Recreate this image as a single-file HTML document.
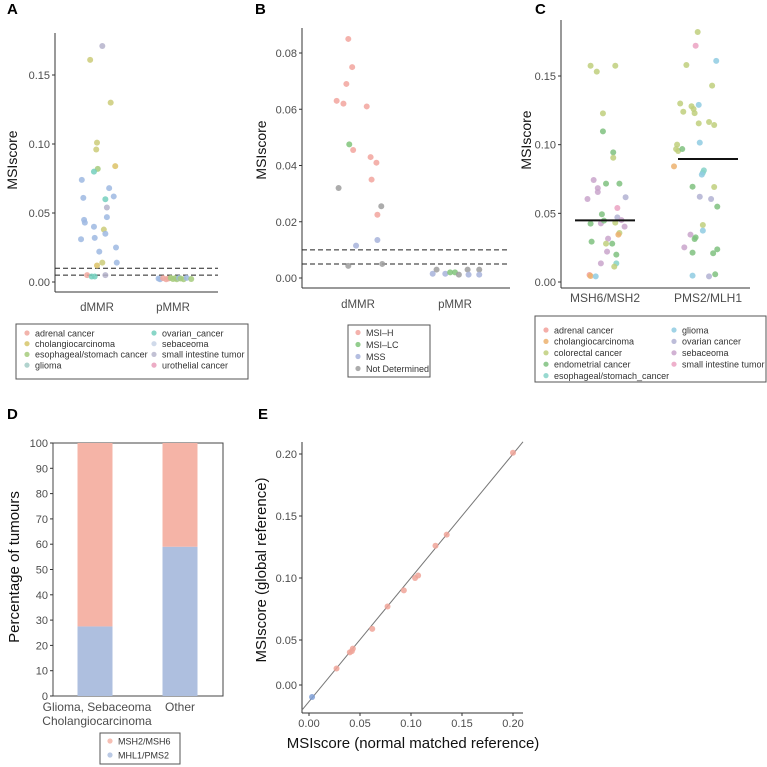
<!DOCTYPE html>
<html><head><meta charset="utf-8">
<style>
html,body{margin:0;padding:0;background:#fff;}
svg{display:block;font-family:"Liberation Sans",sans-serif;}
.tk{font-size:11px;fill:#4d4d4d;}
.ttl{font-size:14px;fill:#111;}
.lg{font-size:9px;fill:#333;}
.pl{font-size:15px;font-weight:bold;fill:#000;}
</style></head>
<body>
<svg id="fig" width="767" height="767" viewBox="0 0 767 767">
<text class="pl" x="7" y="14">A</text>
<text class="pl" x="255" y="14">B</text>
<text class="pl" x="535" y="14">C</text>
<text class="pl" x="7" y="419">D</text>
<text class="pl" x="258" y="419">E</text>
</svg>
<script>
// ---------- Panel A data ----------
const aCats = ["dMMR","pMMR"];
const aGroup = [0,0,0,0,0,0,0,0,0,0,0,0,0,0,0,0,0,0,0,0,0,0,0,0,0,0,0,0,0,0,0, 1,1,1,1,1,1,1,1,1,1,1,1,1,1];
const aValues = [0.171,0.161,0.130,0.101,0.096,0.084,0.082,0.080,0.074,0.068,0.061,0.060,0.062,0.054,0.047,0.045,0.043,0.040,0.038,0.035,0.031,0.032,0.022,0.025,0.014,0.012,0.014,0.005,0.004,0.004,0.005,
 0.0025,0.002,0.0028,0.002,0.0025,0.003,0.0022,0.0028,0.002,0.003,0.0025,0.002,0.003,0.0022];
const aJitter = [0.07,-0.09,0.18,0,-0.01,0.24,0.01,-0.04,-0.20,0.16,-0.18,0.11,0.22,0.13,0.13,-0.17,-0.16,-0.04,0.09,0.11,-0.21,-0.03,0.03,0.25,0.07,0,0.26,-0.13,-0.07,-0.03,0.11,
 -0.19,-0.17,-0.13,-0.09,-0.06,-0.03,0.0,0.03,0.05,0.08,0.10,0.14,0.18,0.24];
const aType = ["sit","cho","cho","cho","cho","chy","eso","ova","seb","seb","seb","ova","seb","sit","seb","seb","seb","seb","cho","seb","seb","seb","seb","seb","cho","chy","seb","adr","ova","ova","sit",
 "seb","seb","adr","adr","adr","eso","eso","eso","eso","seb","eso","eso","seb","eso"];
const aTicks = [0,0.05,0.10,0.15];
const aTickLabels = ["0.00","0.05","0.10","0.15"];
const aThresholds = [0.01,0.005];
const aLegendKeys = ["adr","cho","eso","gli","ova","seb","sit","uro"];
const aLegendLabels = ["adrenal cancer","cholangiocarcinoma","esophageal/stomach cancer","glioma","ovarian_cancer","sebaceoma","small intestine tumor","urothelial cancer"];
const aColors = {adr:"#f0a79e",cho:"#cbcb78",chy:"#dcc266",eso:"#a6cb7c",gli:"#a3cbc6",ova:"#74cfbd",seb:"#9db8e2",sit:"#b5b3cb",uro:"#e99dbb"};
const aLegendColors = {adr:"#f0a79e",cho:"#d6c66a",eso:"#a6cb7c",gli:"#a3cbc6",ova:"#74cfbd",seb:"#c8d4e6",sit:"#b7b6cc",uro:"#e99dbb"};

// ---------- Panel B data ----------
const bCats = ["dMMR","pMMR"];
const bGroup = [0,0,0,0,0,0,0,0,0,0,0,0,0,0,0,0,0,0, 1,1,1,1,1,1,1,1,1,1];
const bValues = [0.085,0.075,0.069,0.063,0.062,0.061,0.0475,0.0455,0.043,0.041,0.035,0.032,0.0255,0.0225,0.0135,0.0115,0.0043,0.005,
 0.0015,0.003,0.0015,0.002,0.002,0.0012,0.003,0.0012,0.003,0.0012];
const bJitter = [-0.10,-0.06,-0.12,-0.22,-0.15,0.09,-0.09,-0.05,0.13,0.19,0.14,-0.20,0.24,0.20,0.20,-0.02,-0.10,0.25,
 -0.23,-0.19,-0.10,-0.05,0,0.04,0.13,0.14,0.25,0.25];
const bType = ["H","H","H","H","H","H","LC","H","H","H","H","ND","ND","H","MSS","MSS","ND","ND",
 "MSS","ND","MSS","LC","LC","ND","ND","MSS","ND","MSS"];
const bTicks = [0,0.02,0.04,0.06,0.08];
const bTickLabels = ["0.00","0.02","0.04","0.06","0.08"];
const bThresholds = [0.01,0.005];
const bLegendKeys = ["H","LC","MSS","ND"];
const bLegendLabels = ["MSI\u2013H","MSI\u2013LC","MSS","Not Determined"];
const bColors = {H:"#f2a59e",LC:"#80c47a",MSS:"#a7b3db",ND:"#9e9e9e"};

// ---------- Panel C data ----------
const cCats = ["MSH6/MSH2","PMS2/MLH1"];
const cValues0 = [0.1575,0.1532,0.1575,0.1228,0.1097,0.0944,0.0905,0.0716,0.0716,0.0743,0.0684,0.0655,0.0604,0.0617,0.0539,0.0493,0.0425,0.0427,0.0447,0.0432,0.0471,0.0451,0.0403,0.0357,0.0345,0.0316,0.0294,0.0279,0.0279,0.0221,0.0199,0.0136,0.0136,0.0112,0.0051,0.0044,0.0041];
const cJitter0 = [-0.14,-0.08,0.10,-0.02,-0.02,0.08,0.08,0.01,0.14,-0.11,-0.07,-0.07,-0.17,0.20,0.12,-0.03,-0.14,-0.04,-0.01,0.10,0.12,0.16,0.19,0.14,0.13,0.03,-0.13,0.01,0.07,0.02,0.11,-0.04,0.11,0.09,-0.15,-0.14,-0.09];
const cType0 = ["col","col","col","col","end","end","col","end","end","seb","seb","seb","seb","ova","sit","end","end","seb","end","col","ova","seb","seb","col","cho","seb","end","col","end","seb","end","seb","eso","col","adr","cho","gli"];
const cValues1 = [0.182,0.172,0.161,0.158,0.143,0.130,0.129,0.128,0.126,0.124,0.123,0.1155,0.1165,0.1143,0.1015,0.100,0.0968,0.0954,0.0968,0.0813,0.0796,0.0782,0.0842,0.0694,0.0692,0.0621,0.0604,0.0549,0.0415,0.0374,0.0345,0.0325,0.0313,0.0252,0.0238,0.0209,0.0214,0.0046,0.0041,0.0056];
const cJitter1 = [-0.10,-0.12,0.08,-0.21,0.04,-0.27,-0.09,-0.16,-0.14,-0.24,-0.13,-0.09,0.01,0.06,-0.08,-0.30,-0.31,-0.29,-0.25,-0.04,-0.05,-0.06,-0.33,-0.15,0.06,-0.08,0.03,0.09,-0.05,-0.05,-0.17,-0.12,-0.13,-0.23,0.09,0.05,-0.15,-0.15,0.01,0.07];
const cType1 = ["col","sit","gli","col","col","col","gli","col","col","col","col","col","col","col","gli","col","col","col","end","eso","eso","gli","cho","end","col","ova","ova","end","col","gli","seb","end","end","seb","end","end","end","gli","ova","end"];
const cMedians = [0.0449,0.0896];
const cTicks = [0,0.05,0.10,0.15];
const cTickLabels = ["0.00","0.05","0.10","0.15"];
const cLegendKeys = ["adr","cho","col","end","eso","gli","ova","seb","sit"];
const cLegendLabels = ["adrenal cancer","cholangiocarcinoma","colorectal cancer","endometrial cancer","esophageal/stomach_cancer","glioma","ovarian cancer","sebaceoma","small intestine tumor"];
const cColors = {adr:"#f2a09a",cho:"#ecb26f",col:"#c0cf7c",end:"#7fc17f",eso:"#86d2c8",gli:"#8fcbe2",ova:"#b1b2d2",seb:"#c9a5cb",sit:"#eba2c2"};

// ---------- Panel D data ----------
const dCats = ["Glioma, Sebaceoma|Cholangiocarcinoma","Other"];
const dMHL1 = [27.5,59];
const dMSH2 = [72.5,41];
const dTicks = [0,10,20,30,40,50,60,70,80,90,100];
const dLegendLabels = ["MSH2/MSH6","MHL1/PMS2"];
const dColors = ["#f5b4a7","#aebfdf"];

// ---------- Panel E data ----------
const eX = [0.003,0.027,0.040,0.042,0.043,0.062,0.077,0.093,0.104,0.107,0.124,0.135,0.200];
const eY = [0.004,0.027,0.040,0.041,0.043,0.059,0.077,0.090,0.100,0.102,0.126,0.135,0.201];
const eGroup = ["pMMR","dMMR","dMMR","dMMR","dMMR","dMMR","dMMR","dMMR","dMMR","dMMR","dMMR","dMMR","dMMR"];
const eXTicks = [0,0.05,0.10,0.15,0.20];
const eXTickLabels = ["0.00","0.05","0.10","0.15","0.20"];
const eYTicks = [0.0137,0.05,0.10,0.15,0.20];
const eYTickLabels = ["0.00","0.05","0.10","0.15","0.20"];

const NS="http://www.w3.org/2000/svg";
const svg=document.getElementById("fig");
function mk(tag,attrs,parent){const e=document.createElementNS(NS,tag);for(const k in attrs)e.setAttribute(k,attrs[k]);(parent||svg).appendChild(e);return e;}
function lin(d0,d1,r0,r1){return v=>r0+(v-d0)*(r1-r0)/(d1-d0);}

function axes(x0,yTop,yBot,xRight,name){
  let l=mk("line",{x1:x0,y1:yTop,x2:x0,y2:yBot,stroke:"#333","stroke-width":1});
  
  
  l=mk("line",{x1:x0,y1:yBot,x2:xRight,y2:yBot,stroke:"#333","stroke-width":1});
  
  
}
function yTicks(ticks,labels,ys,x0,name,cls){
  ticks.forEach((t,i)=>{
    const y=ys(t);
    const tl=mk("line",{x1:x0-3,y1:y,x2:x0,y2:y,stroke:"#333"});
    
    
    const tx=mk("text",{x:x0-5,y:y+4,"text-anchor":"end",class:cls||"tk"});
    tx.textContent=labels[i];
    
    
  });
}
function vtitle(x,y,txt,name,size){
  const t=mk("text",{x:x,y:y,transform:`rotate(-90 ${x} ${y})`,"text-anchor":"middle",class:"ttl"});
  if(size)t.style.fontSize=size+"px";
  t.textContent=txt;
  
  
}
function htext(x,y,txt,name,cls,size){
  const t=mk("text",{x:x,y:y,"text-anchor":"middle",class:cls||"tk"});
  if(size)t.style.fontSize=size+"px";
  t.textContent=txt;
  
  
  return t;
}
function dot(x,y,c,name,r){
  const d=mk("circle",{cx:x,cy:y,r:r||3,fill:c,"fill-opacity":0.85});
  
  
}
function legendBox(x,y,w,h,name){
  const r=mk("rect",{x:x,y:y,width:w,height:h,fill:"#fff",stroke:"#555","stroke-width":1});
  
  
}
function legendEntry(x,y,c,label,name){
  dot(x,y,c,name+'-marker',2.6);
  const t=mk("text",{x:x+8,y:y+3.3,class:"lg"});
  t.textContent=label;
  
  
}

// ===== Panel A =====
(function(){
  const ys=lin(0,0.15,282,75), x0=55, band=76, cx=[97,173];
  axes(x0,33,292,218,"panel-a");
  yTicks(aTicks,aTickLabels,ys,x0,"panel-a");
  aThresholds.forEach(t=>{
    const l=mk("line",{x1:x0,y1:ys(t),x2:218,y2:ys(t),stroke:"#222","stroke-dasharray":"5,3"});
    
    
  });
  aCats.forEach((c,i)=>htext(cx[i],311,c,"panel-a-x-label",null,11.5));
  vtitle(17,160,"MSIscore","panel-a-y-axis-title");
  aValues.forEach((v,i)=>dot(cx[aGroup[i]]+aJitter[i]*band,ys(v),aColors[aType[i]],"panel-a-point"));
  legendBox(16,324,232,55,"panel-a-legend");
  aLegendKeys.forEach((k,i)=>{
    const col=Math.floor(i/4), row=i%4;
    legendEntry(col?154:27,333+row*10.7,aLegendColors[k],aLegendLabels[i],"panel-a-legend-entry");
  });
})();

// ===== Panel B =====
(function(){
  const ys=lin(0,0.08,278,53), x0=302, band=97, cx=[358,455];
  axes(x0,28,288,510,"panel-b");
  yTicks(bTicks,bTickLabels,ys,x0,"panel-b");
  bThresholds.forEach(t=>{
    const l=mk("line",{x1:x0,y1:ys(t),x2:510,y2:ys(t),stroke:"#222","stroke-dasharray":"5,3"});
    
    
  });
  bCats.forEach((c,i)=>htext(cx[i],308,c,"panel-b-x-label",null,11.5));
  vtitle(266,150,"MSIscore","panel-b-y-axis-title");
  bValues.forEach((v,i)=>dot(cx[bGroup[i]]+bJitter[i]*band,ys(v),bColors[bType[i]],"panel-b-point"));
  legendBox(348,325,82,52,"panel-b-legend");
  bLegendKeys.forEach((k,i)=>legendEntry(358,332.5+i*12,bColors[k],bLegendLabels[i],"panel-b-legend-entry"));
})();

// ===== Panel C =====
(function(){
  const ys=lin(0,0.15,282,76), x0=561, band=103, cx=[605,708];
  axes(x0,20,288,750,"panel-c");
  yTicks(cTicks,cTickLabels,ys,x0,"panel-c");
  cCats.forEach((c,i)=>htext(cx[i],302,c,"panel-c-x-label",null,12));
  vtitle(531,140,"MSIscore","panel-c-y-axis-title");
  cValues0.forEach((v,i)=>dot(cx[0]+cJitter0[i]*band,ys(v),cColors[cType0[i]],"panel-c-point"));
  cValues1.forEach((v,i)=>dot(cx[1]+cJitter1[i]*band,ys(v),cColors[cType1[i]],"panel-c-point"));
  cMedians.forEach((m,i)=>{
    const l=mk("line",{x1:cx[i]-30,y1:ys(m),x2:cx[i]+30,y2:ys(m),stroke:"#111","stroke-width":2});
    
    
  });
  legendBox(535,316,231,66,"panel-c-legend");
  cLegendKeys.forEach((k,i)=>{
    const col=i<5?0:1, row=i<5?i:i-5;
    legendEntry(col?674:546,330+row*11.4,cColors[k],cLegendLabels[i],"panel-c-legend-entry");
  });
})();

// ===== Panel D =====
(function(){
  const ys=lin(0,100,696,443), x0=53, cx=[95,180], bw=35;
  const fr=mk("rect",{x:x0,y:443,width:170,height:253,fill:"none",stroke:"#444"});
  
  
  yTicks(dTicks,dTicks.map(String),ys,x0,"panel-d");
  dCats.forEach((c,i)=>{
    const b1=mk("rect",{x:cx[i]-bw/2,y:ys(dMHL1[i]),width:bw,height:ys(0)-ys(dMHL1[i]),fill:dColors[1]});
    
    
    const b2=mk("rect",{x:cx[i]-bw/2,y:ys(dMHL1[i]+dMSH2[i]),width:bw,height:ys(dMHL1[i])-ys(dMHL1[i]+dMSH2[i]),fill:dColors[0]});
    
    
    c.split("|").forEach((ln,j)=>htext(cx[i]+(i===0?2:0),711+j*14,ln,"panel-d-x-label",null,12));
  });
  vtitle(19,567,"Percentage of tumours","panel-d-y-axis-title",15);
  legendBox(100,733,80,31,"panel-d-legend");
  dLegendLabels.forEach((l,i)=>legendEntry(110,741+i*14,dColors[i],l,"panel-d-legend-entry"));
})();

// ===== Panel E =====
(function(){
  const xs=lin(0,0.2,309,513), ys=lin(0,0.2,702,454), x0=302, yb=713;
  axes(x0,442,yb,523,"panel-e");
  yTicks(eYTicks,eYTickLabels,ys,x0,"panel-e");
  eXTicks.forEach((t,i)=>{
    const tl=mk("line",{x1:xs(t),y1:yb,x2:xs(t),y2:yb+3,stroke:"#333"});
    
    
    htext(xs(t),727,eXTickLabels[i],"panel-e-x-tick-label");
  });
  const dl=mk("line",{x1:x0,y1:ys(-0.0065),x2:523,y2:ys(0.2098),stroke:"#777","stroke-width":1});
  
  
  eX.forEach((v,i)=>dot(xs(v),ys(eY[i]),eGroup[i]==="pMMR"?"#7f9fd6":"#f0a599","panel-e-point",3));
  htext(413,748,"MSIscore (normal matched reference)","panel-e-x-axis-title","ttl",15);
  vtitle(266,570,"MSIscore (global reference)","panel-e-y-axis-title",15);
})();
</script>
</body></html>
